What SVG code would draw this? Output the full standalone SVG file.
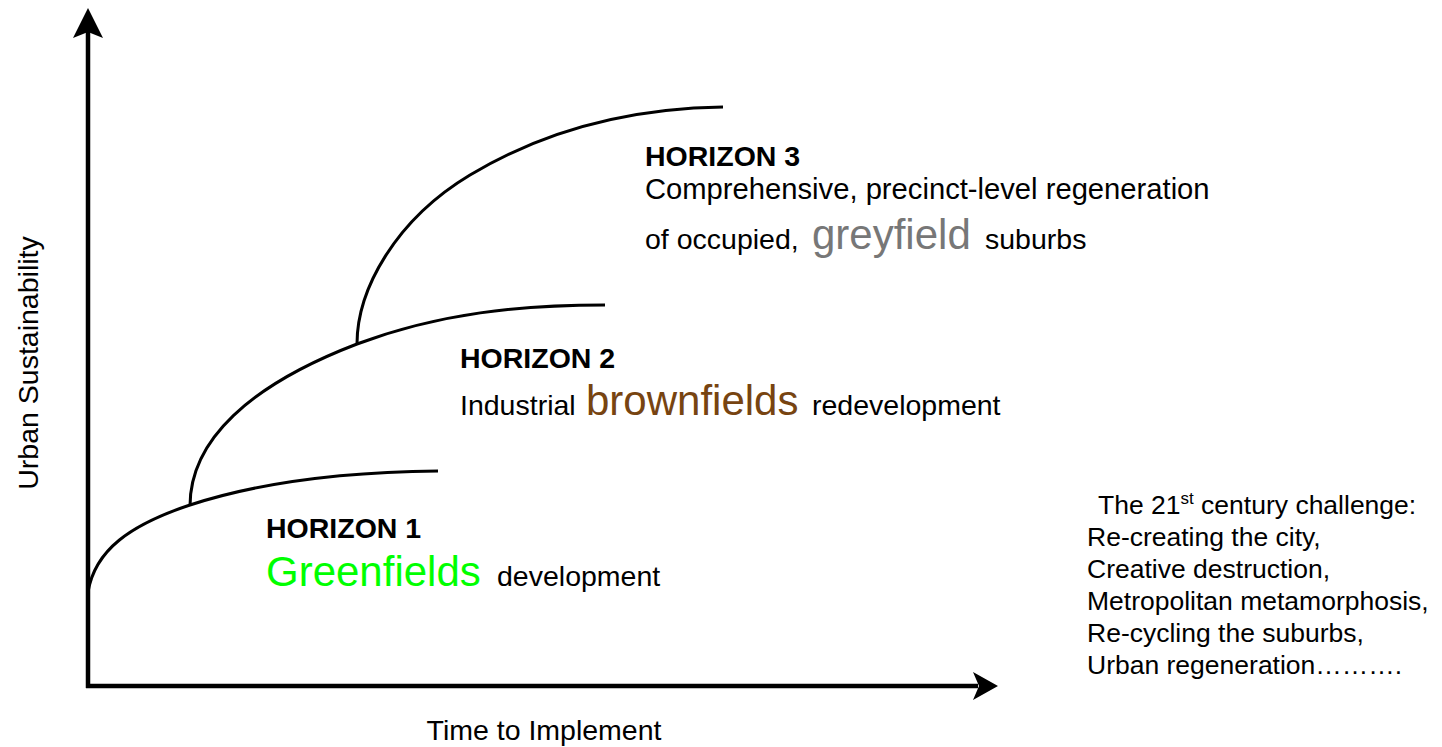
<svg xmlns="http://www.w3.org/2000/svg" width="1442" height="747" viewBox="0 0 1442 747">
  <style>
    text { font-family: "Liberation Sans", Arial, sans-serif; fill: #000; }
    .h { font-size: 28.5px; font-weight: bold; }
    .t { font-size: 28.5px; }
    .big { font-size: 42px; }
    .note { font-size: 26.5px; }
    .axis { stroke: #000; stroke-width: 4.5; fill: none; }
    .curve { stroke: #000; stroke-width: 3; fill: none; }
    .head { fill: #000; stroke: none; }
  </style>
  <rect width="1442" height="747" fill="#fff"/>

  <g id="connectors">
    <line class="axis" x1="88" y1="688" x2="88" y2="30"/>
    <polygon class="head" points="88,8 73,38 88,32 103,38"/>
    <line class="axis" x1="86" y1="686" x2="978" y2="686"/>
    <polygon class="head" points="998,686 973,672 979,686 973,700"/>
    <path class="curve" d="M88,592 C95,550 130,525 190,505 C260,482 340,472 438,471"/>
    <path class="curve" d="M190,506 C190,440 250,385 357,344 C440,313 520,305 605,305"/>
    <path class="curve" d="M357,344 C357,290 395,220 470,175 C560,121 650,108 723,107"/>
  </g>

  <g id="horizon3">
    <text class="h" x="645" y="166">HORIZON 3</text>
    <text class="t" x="645" y="199" style="font-size:29.2px">Comprehensive, precinct-level regeneration</text>
    <text class="t" x="645" y="249">of occupied,</text>
    <text class="big" x="812" y="249" style="fill:#777777">greyfield</text>
    <text class="t" x="985" y="249">suburbs</text>
  </g>

  <g id="horizon2">
    <text class="h" x="460" y="368">HORIZON 2</text>
    <text class="t" x="460" y="415">Industrial</text>
    <text class="big" x="586" y="415" style="fill:#774411">brownfields</text>
    <text class="t" x="812" y="415">redevelopment</text>
  </g>

  <g id="horizon1">
    <text class="h" x="266" y="538">HORIZON 1</text>
    <text class="big" x="266" y="586" style="fill:#00ff00">Greenfields</text>
    <text class="t" x="497" y="586">development</text>
  </g>

  <g id="challenge">
    <text class="note" x="1098" y="514">The 21<tspan dy="-10" font-size="17">st</tspan><tspan dy="10"> century challenge:</tspan></text>
    <text class="note" x="1087" y="546">Re-creating the city,</text>
    <text class="note" x="1087" y="578">Creative destruction,</text>
    <text class="note" x="1087" y="610">Metropolitan metamorphosis,</text>
    <text class="note" x="1087" y="642">Re-cycling the suburbs,</text>
    <text class="note" x="1087" y="674">Urban regeneration……….</text>
  </g>

  <g id="x-label">
    <text class="t" x="544" y="740" text-anchor="middle">Time to Implement</text>
  </g>
  <g id="y-label">
    <text class="t" transform="translate(38,363) rotate(-90)" text-anchor="middle">Urban Sustainability</text>
  </g>
</svg>
